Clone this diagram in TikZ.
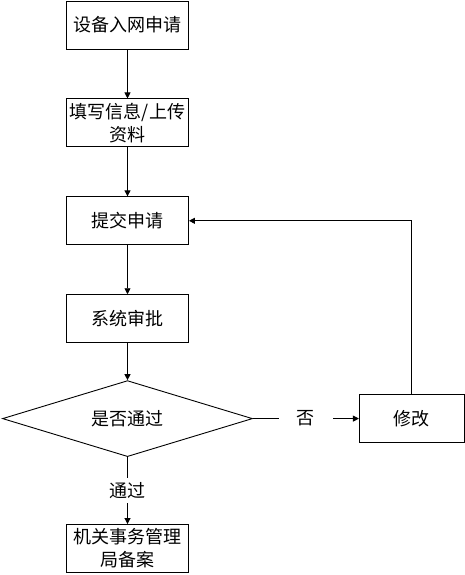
\documentclass[tikz,border=0pt]{standalone}
\usepackage{fontspec}
\setmainfont{Noto Sans CJK SC}
\usetikzlibrary{shapes.geometric, arrows.meta, positioning}

\begin{document}
\begin{tikzpicture}[
    x=1pt, y=1pt,
    node distance=49pt,
    every node/.style={font=\fontsize{18pt}{23pt}\selectfont},
    stepbox/.style={rectangle, draw=black, line width=0.9pt, minimum width=122pt, minimum height=48pt, align=center, inner sep=1pt},
    decision/.style={diamond, draw=black, line width=0.9pt, aspect=3.3, minimum width=250pt, minimum height=76pt, inner sep=0pt},
    arrow/.style={-{Triangle[length=6pt, width=6pt]}, line width=0.9pt},
    label/.style={fill=white, inner sep=0pt}
]
\useasboundingbox (0,0) rectangle (465,-575);

% main column
\node[stepbox] (apply) at (127.5,-25) {设备入网申请};
\node[stepbox, below=of apply] (fill) {填写信息/上传\\资料};
\node[stepbox, below=of fill] (submit) {提交申请};
\node[stepbox, below=of submit] (review) {系统审批};
\node[decision, below=37pt of review] (check) {是否通过};
\node[stepbox, below=67pt of check] (record) {机关事务管理\\局备案};

% side branch
\node[stepbox, minimum width=105pt, right=106pt of check] (modify) {修改};

% arrows
\draw[arrow] (apply) -- (fill);
\draw[arrow] (fill) -- (submit);
\draw[arrow] (submit) -- (review);
\draw[arrow] (review) -- (check);
\draw[arrow] (check) -- (record) node[midway, label, inner ysep=4pt] {通过};
\draw[arrow] (check) -- (modify) node[midway, label, inner xsep=18pt] {否};
\draw[arrow] (modify.north) |- (submit.east);

\end{tikzpicture}
\end{document}
